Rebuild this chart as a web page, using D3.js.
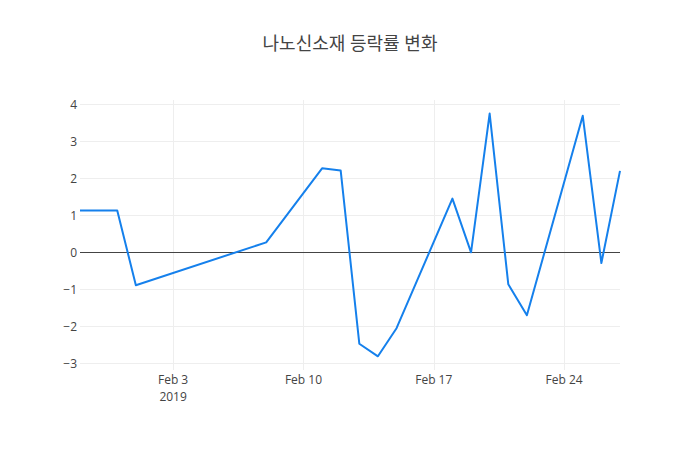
<!DOCTYPE html>
<html>
<head>
<meta charset="utf-8">
<script src="https://cdn.jsdelivr.net/npm/d3@7"></script>
<style>
  body { margin: 0; background: #fff; }
  text { font-family: "Open Sans", "Noto Sans CJK KR", sans-serif; }
</style>
</head>
<body>
<script>
// trading days
const dates = [
  "2019-01-29", "2019-01-31", "2019-02-01", "2019-02-08", "2019-02-11",
  "2019-02-12", "2019-02-13", "2019-02-14", "2019-02-15", "2019-02-18",
  "2019-02-19", "2019-02-20", "2019-02-21", "2019-02-22", "2019-02-25",
  "2019-02-26", "2019-02-27",
];
const changes = [
  1.13, 1.13, -0.89, 0.27, 2.27,
  2.21, -2.47, -2.81, -2.05, 1.45,
  0.0, 3.75, -0.86, -1.7, 3.69,
  -0.29, 2.2,
];
const yTicks = [-3, -2, -1, 0, 1, 2, 3, 4];
const xTicks = ["2019-02-03", "2019-02-10", "2019-02-17", "2019-02-24"];
const titleText = "나노신소재 등락률 변화";

const baseWidth = 700,
  baseHeight = 450;
const margin = { top: 100, right: 80, bottom: 80, left: 80 };
const width = baseWidth - margin.left - margin.right;
const height = baseHeight - margin.top - margin.bottom;

const parse = d3.timeParse("%Y-%m-%d");
const data = dates.map((d, i) => ({ date: parse(d), value: changes[i] }));

const x = d3
  .scaleTime()
  .domain(d3.extent(data, (d) => d.date))
  .range([0, width]);
const y = d3.scaleLinear().domain([-3.18, 4.116]).range([height, 0]);

const svg = d3
  .select("body")
  .append("svg")
  .attr("width", baseWidth)
  .attr("height", baseHeight);

svg
  .append("text")
  .attr("x", baseWidth / 2)
  .attr("y", 50)
  .attr("text-anchor", "middle")
  .attr("fill", "#444")
  .style("font-size", "18px")
  .text(titleText);

const chart = svg
  .append("g")
  .attr("transform", "translate(" + margin.left + "," + margin.top + ")");

// grid
const xAxis = d3
  .axisBottom(x)
  .tickValues(xTicks.map(parse))
  .tickSize(-height)
  .tickFormat("");
chart
  .append("g")
  .attr("transform", "translate(0," + height + ")")
  .call(xAxis)
  .call((g) => g.select(".domain").remove())
  .call((g) =>
    g.selectAll("line").attr("stroke", "#eee").attr("shape-rendering", "crispEdges")
  );

const yAxis = d3
  .axisLeft(y)
  .tickValues(yTicks)
  .tickSize(-width)
  .tickPadding(3)
  .tickFormat((d) => (d < 0 ? "\u2212" + Math.abs(d) : d));
chart
  .append("g")
  .call(yAxis)
  .call((g) => g.select(".domain").remove())
  .call((g) =>
    g
      .selectAll("line")
      .attr("stroke", (d) => (d === 0 ? "#444" : "#eee"))
      .attr("shape-rendering", "crispEdges")
  )
  .call((g) =>
    g
      .selectAll("text")
      .attr("fill", "#444")
      .style("font-size", "12px")
      .attr("font-family", "Open Sans")
  );

// x tick labels, the first one gets the year underneath
const fmt = d3.timeFormat("%b %-d");
chart
  .append("g")
  .selectAll("text")
  .data(xTicks.map(parse))
  .enter()
  .append("text")
  .attr("x", (d) => x(d))
  .attr("y", height + 14)
  .attr("text-anchor", "middle")
  .attr("fill", "#444")
  .style("font-size", "12px")
  .text((d) => fmt(d));

chart
  .append("text")
  .attr("x", x(parse(xTicks[0])))
  .attr("y", height + 31)
  .attr("text-anchor", "middle")
  .attr("fill", "#444")
  .style("font-size", "12px")
  .text(parse(xTicks[0]).getFullYear());

const line = d3
  .line()
  .x((d) => x(d.date))
  .y((d) => y(d.value));

chart
  .append("path")
  .datum(data)
  .attr("fill", "none")
  .attr("stroke", "#1580ec")
  .attr("stroke-width", 2)
  .attr("stroke-linejoin", "round")
  .attr("d", line);
</script>
</body>
</html>
